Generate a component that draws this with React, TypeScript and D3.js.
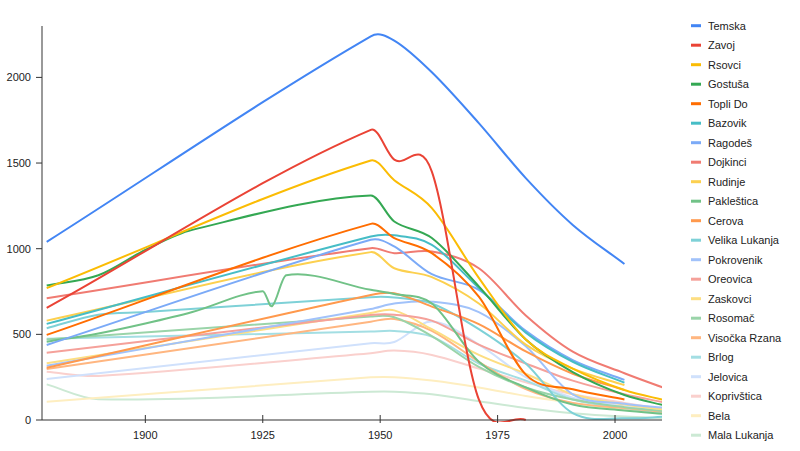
import * as d3 from "d3";

// census years (null = no value for that village)
const years = [1879, 1890, 1900, 1910, 1925, 1927, 1930, 1948, 1953, 1961, 1971, 1981, 1991, 2002, 2011];

const names = [
    "Temska", "Zavoj", "Rsovci", "Gostuša", "Topli Do", "Bazovik",
    "Ragodeš", "Dojkinci", "Rudinje", "Pakleštica", "Cerova", "Velika Lukanja",
    "Pokrovenik", "Oreovica", "Zaskovci", "Rosomač", "Visočka Rzana", "Brlog",
    "Jelovica", "Koprivštica", "Bela", "Mala Lukanja",
];

const n = null;
const temska = [1040, n, n, n, n, n, n, 2240, 2215, 2030, 1733, 1412, 1139, 911, n];
const zavoj = [655, n, n, n, n, n, n, 1694, 1520, 1450, 120, 0, n, n, n];
const rsovci = [770, n, n, n, n, n, n, 1515, 1400, 1237, 830, 470, 300, 175, 113];
const gostusa = [785, 845, 993, 1110, n, n, n, 1311, 1159, 1062, 780, 470, 280, 146, 82];
const topliDo = [497, n, n, n, n, n, n, 1145, 1062, 974, 720, 265, 180, 120, n];
const bazovik = [561, n, n, n, n, n, n, 1071, 1078, 1022, 770, 510, 340, 218, n];
const ragodes = [438, n, n, n, n, n, n, 1052, 1013, 851, 760, 520, 350, 234, n];
const dojkinci = [711, n, n, n, n, n, n, 1003, 974, 983, 886, 610, 399, 273, 182];
const rudinje = [580, n, n, n, n, n, n, 980, 886, 834, 680, 440, 300, 204, n];
const paklestica = [457, 505, 563, 630, 752, 665, 845, 760, 735, 680, 340, 190, 90, 55, 35];
const cerova = [305, n, n, n, n, n, n, 730, 740, 662, 560, 400, 270, 175, n];
const velikaLukanja = [536, 615, 630, n, n, n, n, 717, 715, 680, 530, 330, 40, 10, 20];
const pokrovenik = [317, n, n, n, n, n, n, 648, 680, 691, 630, 430, 150, 95, 70];
const oreovica = [393, n, n, n, n, n, n, 613, 615, 580, 440, 330, 230, 150, 100];
const zaskovci = [331, n, n, n, n, n, n, 625, 640, 530, 380, 270, 150, 90, 60];
const rosomac = [470, n, n, n, n, n, n, 604, 600, 490, 310, 190, 120, 75, 50];
const visockaRzana = [298, n, n, n, n, n, n, 574, 590, 520, 340, 180, 100, 70, 45];
const brlog = [475, n, n, n, n, n, n, 516, 520, 487, 330, 230, 120, 70, 40];
const jelovica = [240, n, n, n, n, n, n, 448, 455, 575, 440, 250, 130, 80, 50];
const koprivstica = [282, 257, n, n, n, n, n, 390, 405, 380, 300, 220, 150, 100, 60];
const bela = [107, n, n, n, n, n, n, 249, 250, 230, 190, 140, 100, 60, 40];
const malaLukanja = [208, 121, n, n, n, n, n, 165, 165, 150, 110, 70, 40, 20, 10];

const series = [
    temska, zavoj, rsovci, gostusa, topliDo, bazovik,
    ragodes, dojkinci, rudinje, paklestica, cerova, velikaLukanja,
    pokrovenik, oreovica, zaskovci, rosomac, visockaRzana, brlog,
    jelovica, koprivstica, bela, malaLukanja,
];

const yTicks = [0, 500, 1000, 1500, 2000];
const xTicks = [1900, 1925, 1950, 1975, 2000];

// base colours, each next row of six gets mixed with white
const baseColors = ["#4285F4", "#EA4335", "#FBBC04", "#34A853", "#FF6D01", "#46BDC6"];
const tints = [0, 0.3, 0.5, 0.75];

const width = 800;
const height = 451;
const left = 42;
const right = 662;
const top = 26;
const bottom = 420;
const font = "Arial, 'Liberation Sans', sans-serif";

// smooth curve that stays a function of x: central-difference slopes,
// bezier handles a third of the way along each segment
function smoothPath(pts: [number, number][]) {
    const p = d3.path();
    const k = pts.length;
    if (k === 0) return "";
    const slope = pts.map((_, i) => {
        const a = pts[Math.max(0, i - 1)];
        const b = pts[Math.min(k - 1, i + 1)];
        return b[0] === a[0] ? 0 : (b[1] - a[1]) / (b[0] - a[0]);
    });
    p.moveTo(pts[0][0], pts[0][1]);
    for (let i = 0; i < k - 1; i++) {
        const [x0, y0] = pts[i];
        const [x1, y1] = pts[i + 1];
        const dx = (x1 - x0) / 3;
        p.bezierCurveTo(x0 + dx, y0 + slope[i] * dx, x1 - dx, y1 - slope[i + 1] * dx, x1, y1);
    }
    return p.toString();
}

export default function App() {
    const x = d3.scaleLinear([1878, 2010], [left, right]);
    const y = d3.scaleLinear([0, 2300], [bottom, top]);
    const color = (i: number) =>
        d3.interpolateRgb(baseColors[i % 6], "#ffffff")(tints[Math.floor(i / 6)]);

    const points = (vals: (number | null)[]) =>
        years
            .map((yr, i) => [yr, vals[i]] as [number, number | null])
            .filter((d) => d[1] !== null)
            .map((d) => [x(d[0]), y(d[1] as number)] as [number, number]);

    const order = series.map((_, i) => i).reverse();

    return (
        <svg
            width={width}
            height={height}
            style={{ position: "absolute", left: 0, top: 0, background: "#fff" }}
            fontFamily={font}
        >
            <defs>
                <clipPath id="plot">
                    <rect x={left} y={0} width={right - left} height={bottom + 2} />
                </clipPath>
            </defs>

            <g clipPath="url(#plot)">
                {order.map((i) => (
                    <path
                        key={names[i]}
                        d={smoothPath(points(series[i]))}
                        fill="none"
                        stroke={color(i)}
                        strokeWidth={2}
                    />
                ))}
            </g>

            {/* y axis */}
            <line x1={left} x2={left} y1={top} y2={bottom} stroke="#777" strokeWidth={1.5} />
            {yTicks.map((t) => (
                <g key={t}>
                    <line x1={left - 6} x2={left} y1={y(t)} y2={y(t)} stroke="#333" />
                    <text x={31} y={y(t) + 4} textAnchor="end" fontSize={11} fill="#222">
                        {t}
                    </text>
                </g>
            ))}

            {/* x axis */}
            <line x1={left} x2={right} y1={bottom} y2={bottom} stroke="#333" strokeWidth={1.2} />
            {xTicks.map((t) => (
                <g key={t}>
                    <line x1={x(t)} x2={x(t)} y1={bottom - 5} y2={bottom + 3} stroke="#333" />
                    <text x={x(t)} y={439} textAnchor="middle" fontSize={11} fill="#222">
                        {t}
                    </text>
                </g>
            ))}

            {/* legend */}
            {names.map((name, i) => {
                const ly = 25.7 + i * 19.5;
                return (
                    <g key={name}>
                        <line x1={691} x2={701} y1={ly} y2={ly} stroke={color(i)} strokeWidth={3} />
                        <text x={708} y={ly + 4} fontSize={11} fill="#222">
                            {name}
                        </text>
                    </g>
                );
            })}
        </svg>
    );
}
